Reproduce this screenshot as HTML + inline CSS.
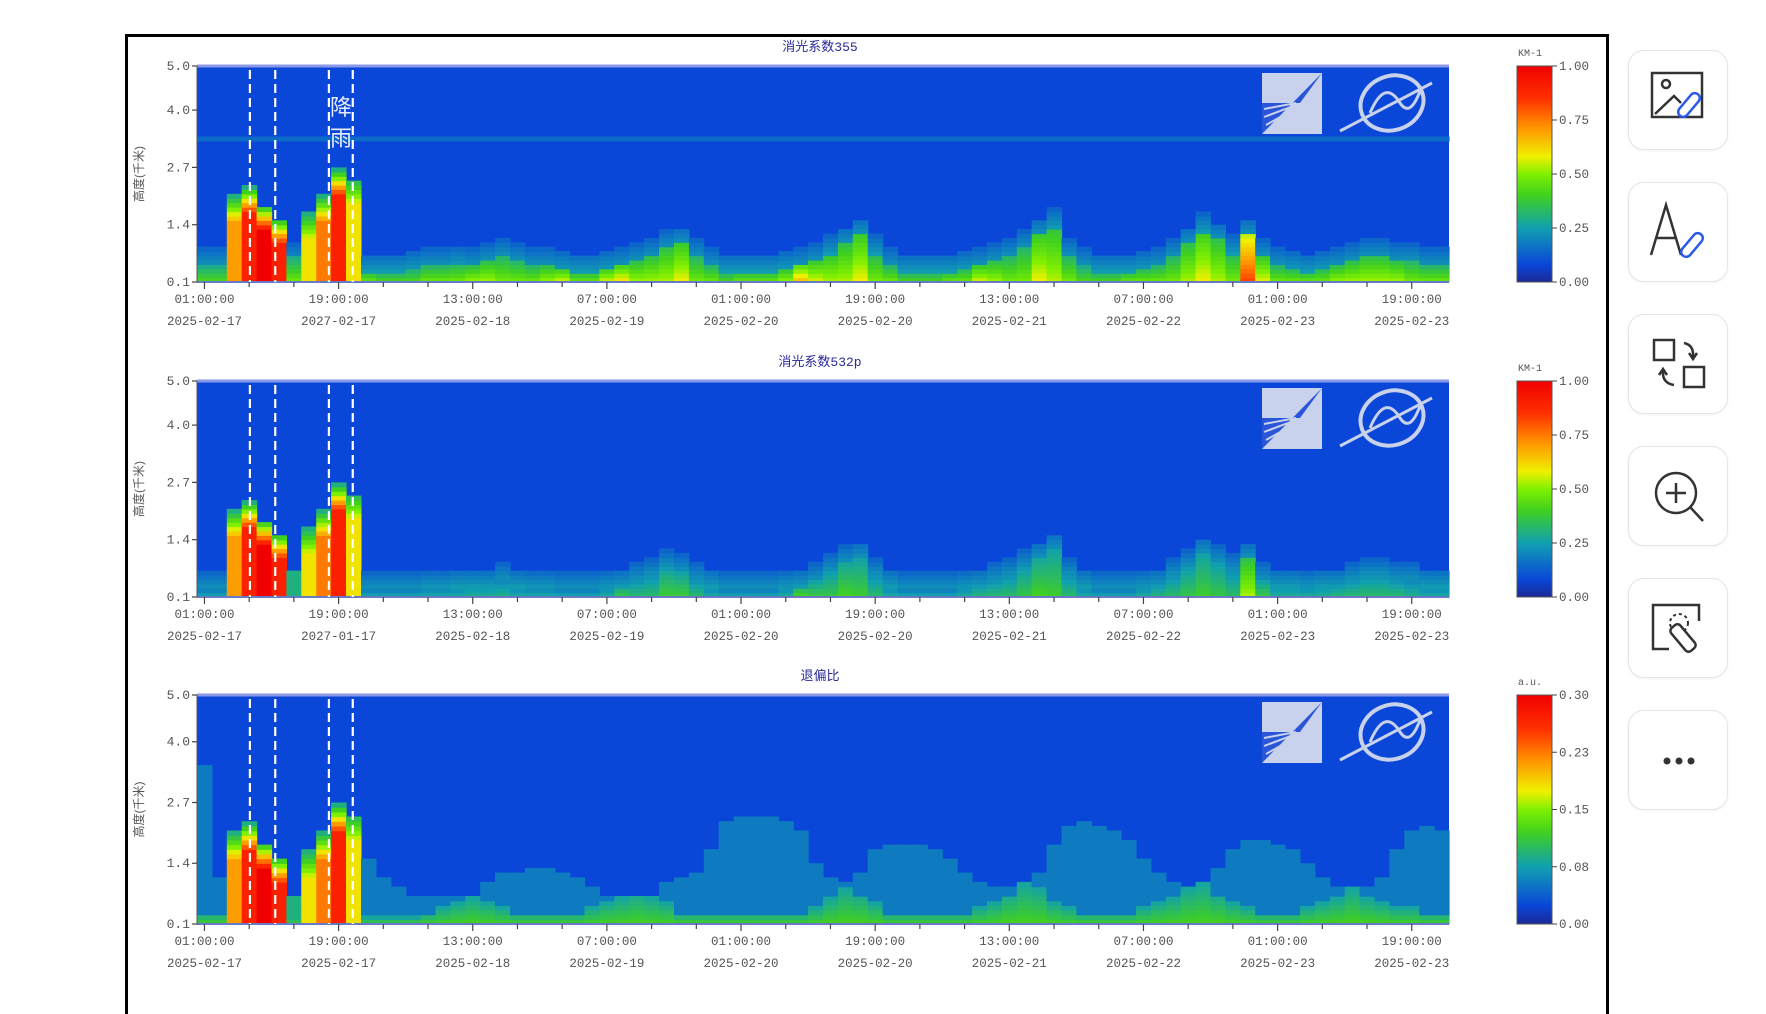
<!DOCTYPE html>
<html><head><meta charset="utf-8">
<style>
html,body{margin:0;padding:0;background:#fff;width:1766px;height:987px;overflow:hidden;font-family:"Liberation Mono","Noto Sans CJK SC",monospace;}
#frame{position:absolute;left:125px;top:34px;width:1484px;height:980px;border:3px solid #000;border-bottom:none;box-sizing:border-box;}
.btn{position:absolute;left:1628px;width:100px;height:100px;border:1.5px solid #e4e4e4;border-radius:16px;box-sizing:border-box;background:#fff;box-shadow:0 1px 3px rgba(0,0,0,0.05);}
.btn svg{position:absolute;left:0;top:0}
</style></head>
<body>
<div id="frame"></div>
<svg id="chart" width="1766" height="987" style="position:absolute;left:0;top:0"></svg>

<div class="btn" style="top:50px"><svg width="100" height="100"><rect x="23" y="22" width="50" height="44" fill="none" stroke="#333" stroke-width="2.5"/><circle cx="37" cy="33" r="4" fill="none" stroke="#333" stroke-width="2.5"/><path d="M26 63 L45 45 L52 52" fill="none" stroke="#333" stroke-width="2.5"/><rect x="55" y="40" width="10" height="28" rx="5" transform="rotate(40 60 54)" fill="#fff" stroke="#2a5be8" stroke-width="2.5"/></svg></div>
<div class="btn" style="top:182px"><svg width="100" height="100"><path d="M22 72 L37 22 L52 72 M28 55 L47 55" fill="none" stroke="#333" stroke-width="2.5"/><rect x="58" y="48" width="10" height="28" rx="5" transform="rotate(40 63 62)" fill="#fff" stroke="#2a5be8" stroke-width="2.5"/></svg></div>
<div class="btn" style="top:314px"><svg width="100" height="100"><rect x="25" y="25" width="20" height="20" fill="none" stroke="#333" stroke-width="2.5"/><rect x="55" y="52" width="20" height="20" fill="none" stroke="#333" stroke-width="2.5"/><path d="M55 28 Q65 30 64 42 M60 38 L64 44 L68 38" fill="none" stroke="#333" stroke-width="2.5"/><path d="M45 70 Q33 68 34 56 M30 60 L34 54 L38 60" fill="none" stroke="#333" stroke-width="2.5"/></svg></div>
<div class="btn" style="top:446px"><svg width="100" height="100"><circle cx="47" cy="46" r="20" fill="none" stroke="#333" stroke-width="2.5"/><path d="M47 36 V56 M37 46 H57 M61 60 L74 74" stroke="#333" stroke-width="2.5"/></svg></div>
<div class="btn" style="top:578px"><svg width="100" height="100"><path d="M40 70 H24 V26 H70 V42" fill="none" stroke="#333" stroke-width="2.5"/><circle cx="50" cy="44" r="9" fill="none" stroke="#333" stroke-width="2" stroke-dasharray="3 3"/><rect x="48" y="44" width="12" height="30" rx="4" transform="rotate(-40 54 59)" fill="#fff" stroke="#333" stroke-width="2.5"/></svg></div>
<div class="btn" style="top:710px"><svg width="100" height="100"><circle cx="38" cy="50" r="3.5" fill="#333"/><circle cx="50" cy="50" r="3.5" fill="#333"/><circle cx="62" cy="50" r="3.5" fill="#333"/></svg></div>

<script>
// ---- data ----
var tickTimes = ["01:00:00","19:00:00","13:00:00","07:00:00","01:00:00","19:00:00","13:00:00","07:00:00","01:00:00","19:00:00"];
var tickDates1 = ["2025-02-17","2027-02-17","2025-02-18","2025-02-19","2025-02-20","2025-02-20","2025-02-21","2025-02-22","2025-02-23","2025-02-23"];
var tickDates2 = ["2025-02-17","2027-01-17","2025-02-18","2025-02-19","2025-02-20","2025-02-20","2025-02-21","2025-02-22","2025-02-23","2025-02-23"];
var tickDates3 = ["2025-02-17","2025-02-17","2025-02-18","2025-02-19","2025-02-20","2025-02-20","2025-02-21","2025-02-22","2025-02-23","2025-02-23"];
var tickHours = [1,19,37,55,73,91,109,127,145,163];
var yTicks = [5.0,4.0,2.7,1.4,0.1];
var cbTicks12 = ["1.00","0.75","0.50","0.25","0.00"];
var cbTicks3 = ["0.30","0.23","0.15","0.08","0.00"];
var titles = ["消光系数355","消光系数532p","退偏比"];
var rainLines = [7.1,10.5,17.7,20.9];
// 2-hour bins, hour 0 .. 166
var ext355Top = [0.4,0.4,0.3,0.3,0.3,0.3,0.5,0.4,0.3,0.3,0.3,0.3,
 0.3,0.3,0.35,0.4,0.4,0.45,0.4,0.5,0.6,0.5,0.4,0.4,
 0.35,0.3,0.3,0.35,0.4,0.5,0.6,0.8,0.9,0.6,0.4,0.3,
 0.3,0.3,0.3,0.35,0.4,0.5,0.7,0.9,1.1,0.7,0.4,0.3,
 0.3,0.3,0.3,0.35,0.4,0.5,0.6,0.8,1.1,1.3,0.6,0.4,
 0.3,0.3,0.3,0.35,0.4,0.6,0.9,1.2,1.0,0.7,1.1,0.6,
 0.4,0.35,0.3,0.35,0.4,0.5,0.6,0.6,0.5,0.5,0.4,0.4];
var ext355Val = [0.45,0.45,0.4,0.4,0.4,0.4,0.5,0.5,0.4,0.4,0.4,0.5,
 0.45,0.45,0.45,0.5,0.5,0.5,0.55,0.55,0.5,0.5,0.5,0.55,
 0.6,0.5,0.5,0.6,0.65,0.55,0.55,0.55,0.6,0.5,0.5,0.45,
 0.5,0.5,0.5,0.55,0.7,0.6,0.55,0.55,0.6,0.5,0.5,0.45,
 0.45,0.45,0.5,0.5,0.6,0.55,0.5,0.5,0.6,0.55,0.5,0.45,
 0.45,0.45,0.5,0.5,0.5,0.5,0.55,0.6,0.55,0.5,0.85,0.6,
 0.5,0.5,0.5,0.5,0.55,0.55,0.55,0.55,0.55,0.5,0.5,0.5];
var ext532Top = [0.2,0.2,0.2,0.2,0.2,0.2,0.3,0.2,0.2,0.2,0.2,0.2,
 0.2,0.2,0.2,0.25,0.25,0.3,0.3,0.3,0.4,0.3,0.25,0.25,
 0.2,0.2,0.2,0.25,0.3,0.4,0.5,0.7,0.6,0.4,0.3,0.2,
 0.2,0.2,0.2,0.25,0.3,0.4,0.6,0.8,0.9,0.5,0.3,0.2,
 0.2,0.2,0.2,0.25,0.3,0.4,0.5,0.7,0.9,1.1,0.5,0.3,
 0.2,0.2,0.2,0.25,0.3,0.5,0.7,1.0,0.8,0.6,0.9,0.4,
 0.3,0.3,0.25,0.3,0.3,0.4,0.5,0.5,0.4,0.4,0.3,0.3];
var ext532Val = [0.3,0.3,0.3,0.3,0.3,0.3,0.3,0.3,0.3,0.3,0.3,0.3,
 0.3,0.3,0.3,0.3,0.3,0.3,0.32,0.32,0.32,0.3,0.3,0.3,
 0.3,0.3,0.3,0.32,0.4,0.35,0.35,0.4,0.4,0.35,0.3,0.3,
 0.3,0.3,0.3,0.32,0.45,0.4,0.38,0.42,0.4,0.35,0.3,0.3,
 0.3,0.3,0.3,0.32,0.35,0.35,0.35,0.38,0.42,0.4,0.35,0.3,
 0.3,0.3,0.3,0.32,0.35,0.35,0.38,0.4,0.38,0.35,0.55,0.4,
 0.32,0.32,0.32,0.32,0.35,0.35,0.35,0.35,0.35,0.32,0.3,0.3];
var depolTop = [3.5,1.0,0.8,1.5,1.0,0.8,0.6,0.8,1.0,1.5,2.0,1.5,
 1.0,0.8,0.7,0.6,0.6,0.6,0.7,0.9,1.1,1.2,1.3,1.3,
 1.2,1.0,0.8,0.6,0.6,0.6,0.7,0.9,1.0,1.2,1.6,2.2,
 2.4,2.4,2.4,2.3,2.0,1.4,1.0,0.9,1.2,1.6,1.8,1.8,
 1.8,1.7,1.5,1.1,0.9,0.8,0.8,0.9,1.2,1.8,2.1,2.2,
 2.1,2.0,1.9,1.5,1.1,0.9,0.8,0.9,1.3,1.7,1.9,1.9,
 1.8,1.7,1.4,1.0,0.8,0.7,0.8,1.0,1.6,2.0,2.1,2.0];
var depolSurf = [0.3,0.3,0.2,0.2,0.2,0.2,0.2,0.2,0.2,0.2,0.3,0.2,
 0.2,0.2,0.2,0.3,0.4,0.5,0.6,0.5,0.4,0.3,0.3,0.3,
 0.3,0.3,0.4,0.5,0.6,0.7,0.6,0.5,0.3,0.3,0.3,0.3,
 0.3,0.3,0.3,0.3,0.3,0.4,0.6,0.8,0.7,0.5,0.3,0.3,
 0.3,0.3,0.3,0.3,0.4,0.5,0.7,0.9,0.8,0.5,0.4,0.3,
 0.3,0.3,0.3,0.4,0.5,0.6,0.8,0.9,0.7,0.5,0.4,0.3,
 0.3,0.3,0.4,0.5,0.6,0.8,0.6,0.5,0.4,0.4,0.3,0.3];
var rainTop = [0,0,2.0,2.2,1.8,1.5,0.6,1.6,2.0,2.6,2.4,0];
var rainVal = [0,0,0.7,0.9,1.0,0.9,0.3,0.6,0.75,0.9,0.6,0];

// ---- layout ----
var X0=197, X1=1449, HOURS=168;
var panels=[{top:66,bot:282},{top:381,bot:597},{top:695,bot:924}];
function xs(h){return X0+(h/HOURS)*(X1-X0);}
function ys(p,km){return p.top+(5.0-km)/4.9*(p.bot-p.top);}
var stops=[[0,[26,42,150]],[0.08,[10,70,216]],[0.25,[16,160,176]],[0.4,[64,208,32]],[0.5,[128,240,0]],[0.58,[240,240,0]],[0.72,[255,144,0]],[0.85,[255,48,0]],[1,[240,0,0]]];
function jet(v){v=Math.max(0,Math.min(1,v));for(var k=1;k<stops.length;k++){if(v<=stops[k][0]){var a=stops[k-1],b=stops[k],t=(v-a[0])/(b[0]-a[0]);var c=a[1].map(function(q,j){return Math.round(q+(b[1][j]-q)*t);});return 'rgb('+c.join(',')+')';}}return 'rgb(240,0,0)';}
var NS='http://www.w3.org/2000/svg', svg=document.getElementById('chart');
function el(tag,attrs,parent){var e=document.createElementNS(NS,tag);for(var k in attrs)e.setAttribute(k,attrs[k]);(parent||svg).appendChild(e);return e;}
function txt(x,y,s,attrs,parent){var t=el('text',Object.assign({x:x,y:y},attrs),parent);t.textContent=s;return t;}

function valueAt(pi,i,h){
  var v=-1;
  if(pi<2){
    var top=pi==0?ext355Top[i]:ext532Top[i], val=pi==0?ext355Val[i]:ext532Val[i];
    if(h<=top) v=val*(1-0.35*h/top);
    else if(h<=top+0.4) v=0.14+0.1*(1-(h-top)/0.4);
    if(pi==0 && Math.abs(h-3.3)<0.06) v=Math.max(v,0.15);
  } else {
    var t=depolTop[i], s=depolSurf[i];
    if(h<=s) v=0.42-0.15*h/s;
    else if(h<=t) v=0.18;
  }
  if(i<rainTop.length && rainTop[i]>0 && h<=rainTop[i]){
    var f=(rainTop[i]-h)/0.6; if(f>1) f=1;
    var rv=0.3+(rainVal[i]-0.3)*f;
    v=Math.max(v,rv);
  }
  return v;
}

panels.forEach(function(p,pi){
  var g=el('g',{});
  
  
  var bg=el('rect',{x:X0,y:p.top,width:X1-X0,height:p.bot-p.top,fill:'#0a46d8'},g);
  
  
  var cw=(X1-X0)/ext355Top.length;
  for(var i=0;i<ext355Top.length;i++){
    for(var r=0;r<49;r++){
      var h=0.1+r*0.1;
      var v=valueAt(pi,i,h);
      if(v<0) continue;
      var c=el('rect',{x:(xs(i*2)).toFixed(1),y:(ys(p,h+0.1)).toFixed(1),width:(cw+0.6).toFixed(1),height:((p.bot-p.top)/49+0.6).toFixed(1),fill:jet(v)},g);
      
      
    }
  }
  el('line',{x1:X0,y1:p.top,x2:X1,y2:p.top,stroke:'#8a98e8','stroke-width':3},g);
  el('line',{x1:X0,y1:p.bot,x2:X1,y2:p.bot,stroke:'#6a78c8','stroke-width':2},g);
  el('line',{x1:X0,y1:p.top,x2:X0,y2:p.bot,stroke:'#555','stroke-width':1},g);
  rainLines.forEach(function(hr){
    var l=el('line',{x1:xs(hr),y1:p.top+4,x2:xs(hr),y2:p.bot,stroke:'#fff','stroke-width':2.2,'stroke-dasharray':'9 5'},g);
    
    
  });
  var lg=el('g',{},g);
  
  
  var ly=p.top+7;
  el('rect',{x:1262,y:ly,width:60,height:61,fill:'#c8d2ec'},lg);
  el('polygon',{points:'1322,'+ly+' 1262,'+(ly+61)+' 1262,'+(ly+30)+' 1300,'+(ly+30),fill:'#2a55d8'},lg);
  el('path',{d:'M1264 '+(ly+36)+' L1296 '+(ly+30)+' M1264 '+(ly+44)+' L1296 '+(ly+32)+' M1266 '+(ly+52)+' L1298 '+(ly+34),stroke:'#c8d2ec','stroke-width':2},lg);
  el('ellipse',{cx:1392,cy:ly+30,rx:32,ry:27,fill:'none',stroke:'#c8d2ec','stroke-width':4,transform:'rotate(-20 1392 '+(ly+30)+')'},lg);
  el('path',{d:'M1340 '+(ly+58)+' L1432 '+(ly+10)+' M1370 '+(ly+40)+' Q1385 '+(ly+5)+' 1400 '+(ly+30)+' Q1410 '+(ly+45)+' 1420 '+(ly+18),fill:'none',stroke:'#c8d2ec','stroke-width':3},lg);
  var tt=txt(820,p.top-15,titles[pi],{'font-size':13,fill:'#2a2a9a','text-anchor':'middle','font-family':'"Liberation Mono","Noto Sans CJK SC",monospace'});
  
  
  yTicks.forEach(function(v){
    var y=ys(p,v);
    el('line',{x1:X0-5,y1:y,x2:X0,y2:y,stroke:'#444','stroke-width':1.2});
    var t=txt(X0-7,y+4,v.toFixed(1),{'font-size':13,fill:'#555','text-anchor':'end'});
    
    
  });
  var yl=txt(0,0,'高度(千米)',{'font-size':12,fill:'#555','text-anchor':'middle',transform:'translate(143,'+((p.top+p.bot)/2)+') rotate(-90)','font-family':'"Liberation Sans","Noto Sans CJK SC",sans-serif'});
  
  
  for(var hh=1;hh<HOURS;hh+=6){el('line',{x1:xs(hh),y1:p.bot,x2:xs(hh),y2:p.bot+(((hh-1)%18==0)?7:5),stroke:'#444','stroke-width':1.2});}
  var dates=[tickDates1,tickDates2,tickDates3][pi];
  tickHours.forEach(function(hr,k){
    var a=txt(xs(hr),p.bot+21,tickTimes[k],{'font-size':12.5,fill:'#555','text-anchor':'middle'});
    
    
    var b=txt(xs(hr),p.bot+43,dates[k],{'font-size':12.5,fill:'#555','text-anchor':'middle'});
    
    
  });
  var cg=el('g',{});
  
  
  var gid='cbg'+pi;
  var defs=el('defs',{},cg);
  var lgd=el('linearGradient',{id:gid,x1:0,y1:1,x2:0,y2:0},defs);
  stops.forEach(function(s){el('stop',{offset:s[0],'stop-color':jet(s[0])},lgd);});
  el('rect',{x:1517,y:p.top,width:35,height:p.bot-p.top,fill:'url(#'+gid+')',stroke:'#555','stroke-width':1},cg);
  var labs=pi<2?cbTicks12:cbTicks3;
  labs.forEach(function(s,k){
    var y=p.top+k*(p.bot-p.top)/4;
    el('line',{x1:1552,y1:y,x2:1557,y2:y,stroke:'#444'},cg);
    var t=txt(1559,y+4,s,{'font-size':12.5,fill:'#555'},cg);
    
    
  });
  var u=txt(1530,p.top-10,pi<2?'KM-1':'a.u.',{'font-size':10,fill:'#555','text-anchor':'middle'},cg);
  
  
});
['降','雨'].forEach(function(ch,k){
  var t=txt(341,115+k*31,ch,{'font-size':22,fill:'#e8ecff','text-anchor':'middle','font-family':'"Noto Sans CJK SC",sans-serif'});
  
  
});
</script>
</body></html>
